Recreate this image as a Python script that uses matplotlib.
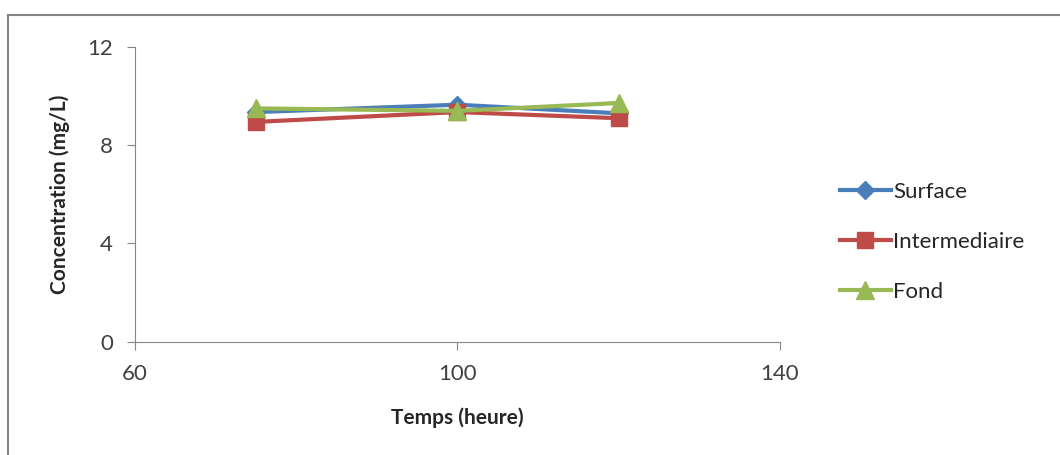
import matplotlib.pyplot as plt
from matplotlib.patches import Rectangle

plt.rcParams['font.family'] = ['Lato', 'DejaVu Sans']

temps = [75, 100, 120]
surface = [9.35, 9.65, 9.3]
intermediaire = [8.95, 9.35, 9.1]
fond = [9.5, 9.4, 9.72]

fig = plt.figure(figsize=(10.6, 4.55), dpi=100)
ax = fig.add_axes([0.1274, 0.249, 0.6084, 0.6477])

# chart frame (Excel style)
fig.patches.append(Rectangle((8/1060, -0.1), 1.2, 1 - 15/455 + 0.1,
                             transform=fig.transFigure, fill=False,
                             edgecolor='#868686', linewidth=1.5))

ax.plot(temps, surface, color='#4A7EBB', lw=3, marker='D', ms=9, label='Surface')
ax.plot(temps, intermediaire, color='#BE4B48', lw=3, marker='s', ms=11, label='Intermediaire')
ax.plot(temps, fond, color='#98B954', lw=3, marker='^', ms=13, label='Fond')

ax.set_xlim(60, 140)
ax.set_ylim(0, 12)
ax.set_xticks([60, 100, 140])
ax.set_yticks([0, 4, 8, 12])
for s in ['top', 'right']:
    ax.spines[s].set_visible(False)
for s in ['left', 'bottom']:
    ax.spines[s].set_color('#868686')
ax.tick_params(colors='#868686', labelcolor='#404040', labelsize=16, length=6)
ax.tick_params(axis='x', pad=10)
ax.tick_params(axis='y', pad=10)

ax.set_xlabel('Temps (heure)', fontsize=15, fontweight='bold', color='#262626', labelpad=17)
ax.set_ylabel('Concentration (mg/L)', fontsize=15, fontweight='bold', color='#262626', labelpad=12)

ax.legend(loc='center left', bbox_to_anchor=(1.062, 0.34), frameon=False,
          fontsize=16, handlelength=2.3, handletextpad=0.1, labelspacing=1.35,
          labelcolor='#262626')

fig.savefig('out.png', dpi=100)
